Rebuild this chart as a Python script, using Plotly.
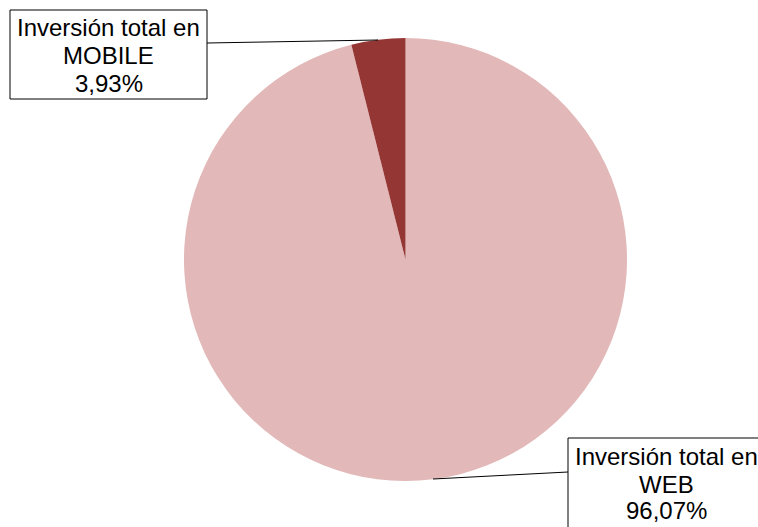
import plotly.graph_objects as go

# Investment split between channels
categories = ["WEB", "MOBILE"]
shares = [96.07, 3.93]
label_prefix = "Inversión total en"
slice_colors = ["#E2B8B8", "#943634"]

W, H = 758, 527


def px(x):
    return x / W


def py(y):
    return 1 - y / H


# Slices run clockwise from 12 o'clock, so the small MOBILE wedge closes just left of the top
fig = go.Figure(
    go.Pie(
        labels=categories,
        values=shares,
        sort=False,
        direction="clockwise",
        rotation=0,
        marker=dict(colors=slice_colors, line=dict(width=0)),
        textinfo="none",
        hoverinfo="label+percent",
        showlegend=False,
        domain=dict(x=[px(184), px(627)], y=[py(481), py(38)]),
    )
)


def fmt(v):
    return f"{v:.2f}".replace(".", ",") + "%"


# Callout boxes: (box left, top, right, bottom), text centre x, cap-centre y of each line, leader line
callouts = {
    "WEB": dict(box=(568, 438, 765, 530), cx=666, ys=(456.8, 484.8, 510.8), leader=((568, 472), (433, 479))),
    "MOBILE": dict(box=(10, 10, 207, 99), cx=108.5, ys=(27.8, 55.8, 83.8), leader=((207, 43), (378, 40))),
}

shapes = []
annotations = []
for cat, val in zip(categories, shares):
    c = callouts[cat]
    x0, y0, x1, y1 = c["box"]
    shapes.append(dict(type="rect", xref="paper", yref="paper",
                       x0=px(x0), x1=px(x1), y0=py(y1), y1=py(y0),
                       line=dict(color="black", width=1), fillcolor="white", layer="above"))
    (lx0, ly0), (lx1, ly1) = c["leader"]
    shapes.append(dict(type="line", xref="paper", yref="paper",
                       x0=px(lx0), y0=py(ly0), x1=px(lx1), y1=py(ly1),
                       line=dict(color="black", width=1), layer="above"))
    for txt, y in zip([label_prefix, cat, fmt(val)], c["ys"]):
        annotations.append(dict(text=txt, x=px(c["cx"]), y=py(y), xref="paper", yref="paper",
                                xanchor="center", yanchor="middle", showarrow=False,
                                font=dict(family="Liberation Sans, Arial, sans-serif", size=24, color="black")))

fig.update_layout(
    width=W, height=H,
    margin=dict(l=0, r=0, t=0, b=0),
    paper_bgcolor="white",
    plot_bgcolor="white",
    shapes=shapes,
    annotations=annotations,
)

fig.write_html("out.html")
